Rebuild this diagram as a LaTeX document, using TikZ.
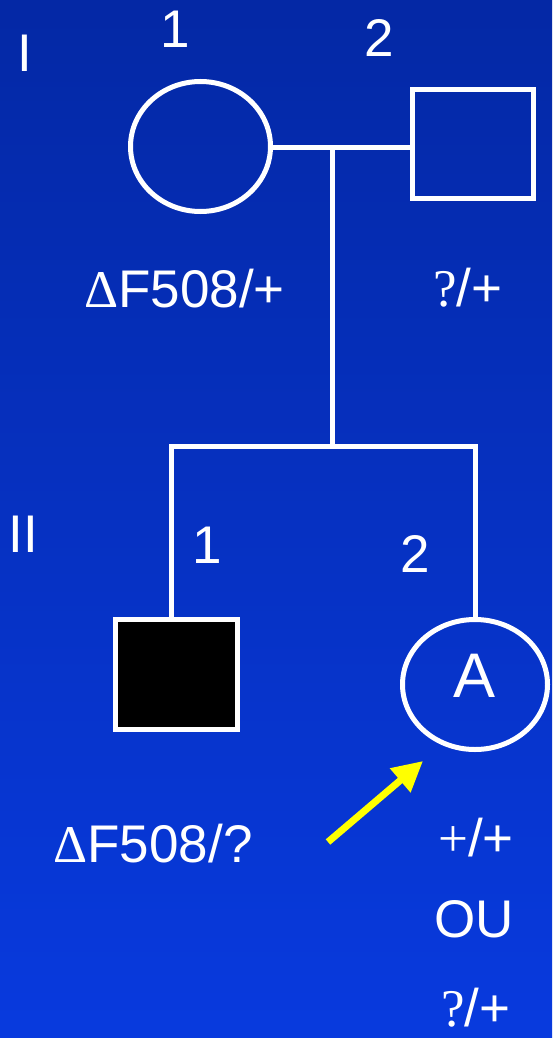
\documentclass[tikz,border=0pt]{standalone}
\usepackage{fontspec}
\setmainfont{Liberation Sans}
\newfontfamily\serifglyph{Liberation Serif}
\usepackage{tikz}
\usetikzlibrary{positioning,arrows.meta,shapes.geometric}
\definecolor{bgtop}{RGB}{4,40,165}
\definecolor{bgbot}{RGB}{8,58,222}
\definecolor{pointer}{RGB}{255,255,0}

\begin{document}
\begin{tikzpicture}[x=1pt,y=-1pt,
  kin/.style={draw=white,line width=5pt},
  female/.style={kin,ellipse,inner sep=0pt,minimum width=140pt,minimum height=130pt},
  male/.style={kin,rectangle,inner sep=0pt,minimum width=121pt,minimum height=109pt},
  lab/.style={text=white,anchor=base,inner sep=0pt,font=\fontsize{53}{60}\selectfont}]
\useasboundingbox (0,0) rectangle (552,1038);
\shade[top color=bgtop,bottom color=bgbot] (0,0) rectangle (552,1038);
% generation I
\node[female] (I1) at (200.5,146.5) {};
\node[male] (I2) at (473,144) {};
\coordinate (mate) at (332,147);
\draw[kin] (I1.east |- mate) -- (I2.west |- mate);
\node[lab] (genI) at (25,72) {I};
\node[lab] (n11) at (175,48) {1};
\node[lab] (n12) at (379,57) {2};
\node[lab] (g11) at (184.5,307) {{\serifglyph Δ}F508/+};
\node[lab] (g12) at (468,306) {{\serifglyph ?}/+};
% generation II
\coordinate (sibL) at (171,446);
\coordinate (sibR) at (475,446);
\draw[kin] (mate) -- (mate |- sibL);
\node[male,fill=black,minimum width=122pt,minimum height=110pt] (II1) at (176.5,674.5) {};
\node[female,minimum width=145pt] (II2) at (475,684.5) {};
\draw[kin] (sibL |- II1.north) -- (sibL) -- (sibR) -- (II2.north);
\node[lab,font=\fontsize{63}{70}\selectfont] (Atxt) at (475,697) {A};
\node[lab] (genII) at (23,552) {II};
\node[lab] (n21) at (207,563) {1};
\node[lab] (n22) at (415,572) {2};
\node[lab] (g21) at (153,862) {{\serifglyph Δ}F508/?};
\node[lab] (g22a) at (476,856) {{\serifglyph +}/+};
\node[lab] (g22b) at (474.5,937) {OU};
\node[lab] (g22c) at (476,1026) {{\serifglyph ?}/+};
% index pointer
\coordinate (ptrtail) at (328,842);
\coordinate (ptrtip) at (423,761);
\draw[pointer,line width=7pt,-{Triangle[length=30pt,width=30pt]}] (ptrtail) -- (ptrtip);
\end{tikzpicture}
\end{document}
